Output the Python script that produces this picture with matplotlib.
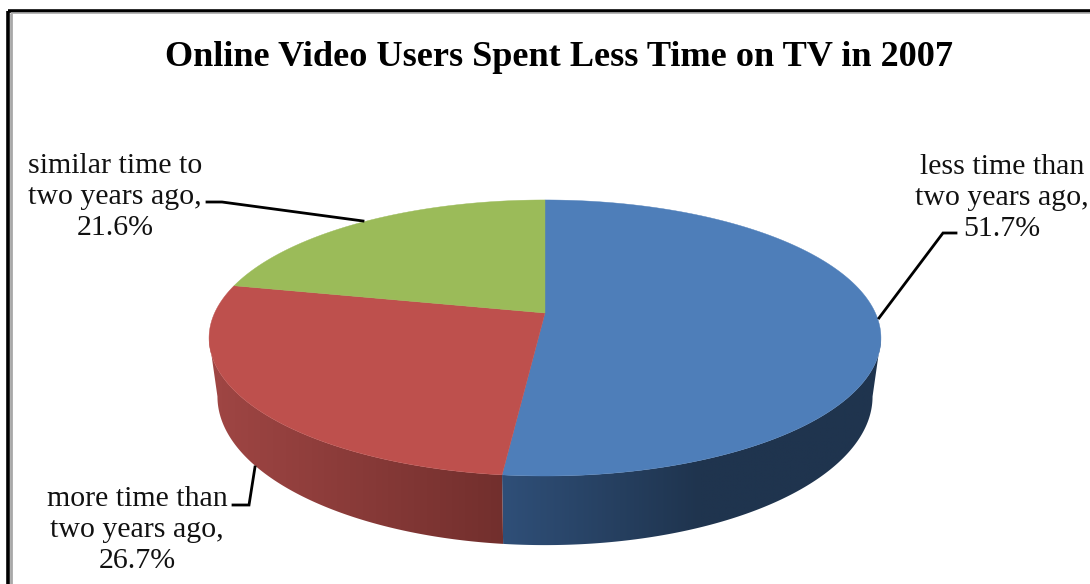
import numpy as np
import matplotlib
matplotlib.use("Agg")
import matplotlib.pyplot as plt
from matplotlib.colors import to_rgb
from matplotlib.patches import Polygon

plt.rcParams['font.family'] = ['Liberation Serif', 'DejaVu Serif']

title = "Online Video Users Spent Less Time on TV in 2007"
labels = ["less time than\ntwo years ago,", "more time than\ntwo years ago,", "similar time to\ntwo years ago,"]
shares = [51.7, 26.7, 21.6]
top_colors = ["#4e7eb9", "#be504d", "#9bbb59"]
side_left = ["#2f4f78", "#a04644", "#7a9446"]
side_right = ["#1f344e", "#722f2d", "#5f7337"]

# pie geometry, in pixels
hub_x, hub_y = 545, 313
rad_x, rad_y = 330.4, 133.5
persp = 0.181
depth = 56.6


def top_xy(theta):
    # theta runs clockwise from the back of the pie
    d = 1 + persp * np.cos(theta)
    return hub_x + rad_x * np.sin(theta) / d, hub_y - rad_y * np.cos(theta) / d


def bottom_xy(theta):
    x, y = top_xy(theta)
    d = 1 + persp * np.cos(theta)
    return hub_x + (x - hub_x) * 0.975, y + depth / d


fig = plt.figure(figsize=(10.9, 5.84), dpi=100)
ax = fig.add_axes([0, 0, 1, 1])
ax.axis("off")

# frame round the chart
ax.plot([7.5, 7.5], [584, 10.5], color="black", lw=2.6, solid_capstyle="butt")
ax.plot([7.5, 1090], [10.5, 10.5], color="black", lw=2.6, solid_capstyle="butt")
ax.plot([11, 11], [584, 13], color="#a8a8a8", lw=2, solid_capstyle="butt")
ax.plot([11, 1090], [13, 13], color="#a8a8a8", lw=1.2, solid_capstyle="butt")

edges = np.cumsum([0] + shares) / 100 * 2 * np.pi
left_limit = 2 * np.pi - np.arccos(-persp)
right_limit = np.arccos(-persp)
shade_range = [(503, 700), (209, 503), (209, 503)]

# side wall: a horizontal colour ramp clipped to the outline of each slice
for i in range(3):
    start = max(edges[i], right_limit)
    stop = min(edges[i + 1], left_limit)
    if stop <= start:
        continue
    arc = np.linspace(start, stop, 200)
    xt, yt = top_xy(arc)
    xb, yb = bottom_xy(arc)
    outline = list(zip(xt, yt)) + list(zip(xb[::-1], yb[::-1]))
    wall = Polygon(outline, closed=True, facecolor="none", edgecolor="none")
    ax.add_patch(wall)
    x0, x1 = shade_range[i]
    x_low = min(xt.min(), xb.min())
    x_high = max(xt.max(), xb.max())
    xs = np.linspace(x_low, x_high, 400)
    t = np.clip((xs - x0) / (x1 - x0), 0, 1)[:, None]
    ramp = (np.array(to_rgb(side_left[i])) * (1 - t) + np.array(to_rgb(side_right[i])) * t)[None, :, :]
    im = ax.imshow(ramp, extent=(x_low, x_high, yb.max() + 1, yt.min() - 1), aspect="auto", interpolation="bilinear", zorder=1.5)
    im.set_clip_path(wall)

# top face
for i in range(3):
    arc = np.linspace(edges[i], edges[i + 1], 200)
    xs, ys = top_xy(arc)
    pts = [(hub_x, hub_y)] + list(zip(xs, ys))
    ax.add_patch(Polygon(pts, closed=True, facecolor=top_colors[i], edgecolor=top_colors[i], lw=0.3, zorder=2))

ax.set_xlim(0, 1090)
ax.set_ylim(584, 0)

ax.text(559, 58, title, fontsize=26.1, fontweight="bold", ha="center", va="center", color="black")

# labels with their leader lines
text_kw = dict(fontsize=21.5, ha="center", va="center", color="#111111", linespacing=1.23)
ax.text(1002, 198, labels[0] + "\n%.1f%%" % shares[0], **text_kw)
ax.text(137, 530, labels[1] + "\n%.1f%%" % shares[1], **text_kw)
ax.text(115, 197, labels[2] + "\n%.1f%%" % shares[2], **text_kw)

line_kw = dict(color="black", lw=2, solid_joinstyle="miter", zorder=3)
ax.plot([879, 943, 956], [318, 233, 233], **line_kw)
ax.plot([233, 249, 255], [505, 505, 467], **line_kw)
ax.plot([207, 222, 363], [202, 202, 221], **line_kw)

fig.savefig("out.png", dpi=100)
